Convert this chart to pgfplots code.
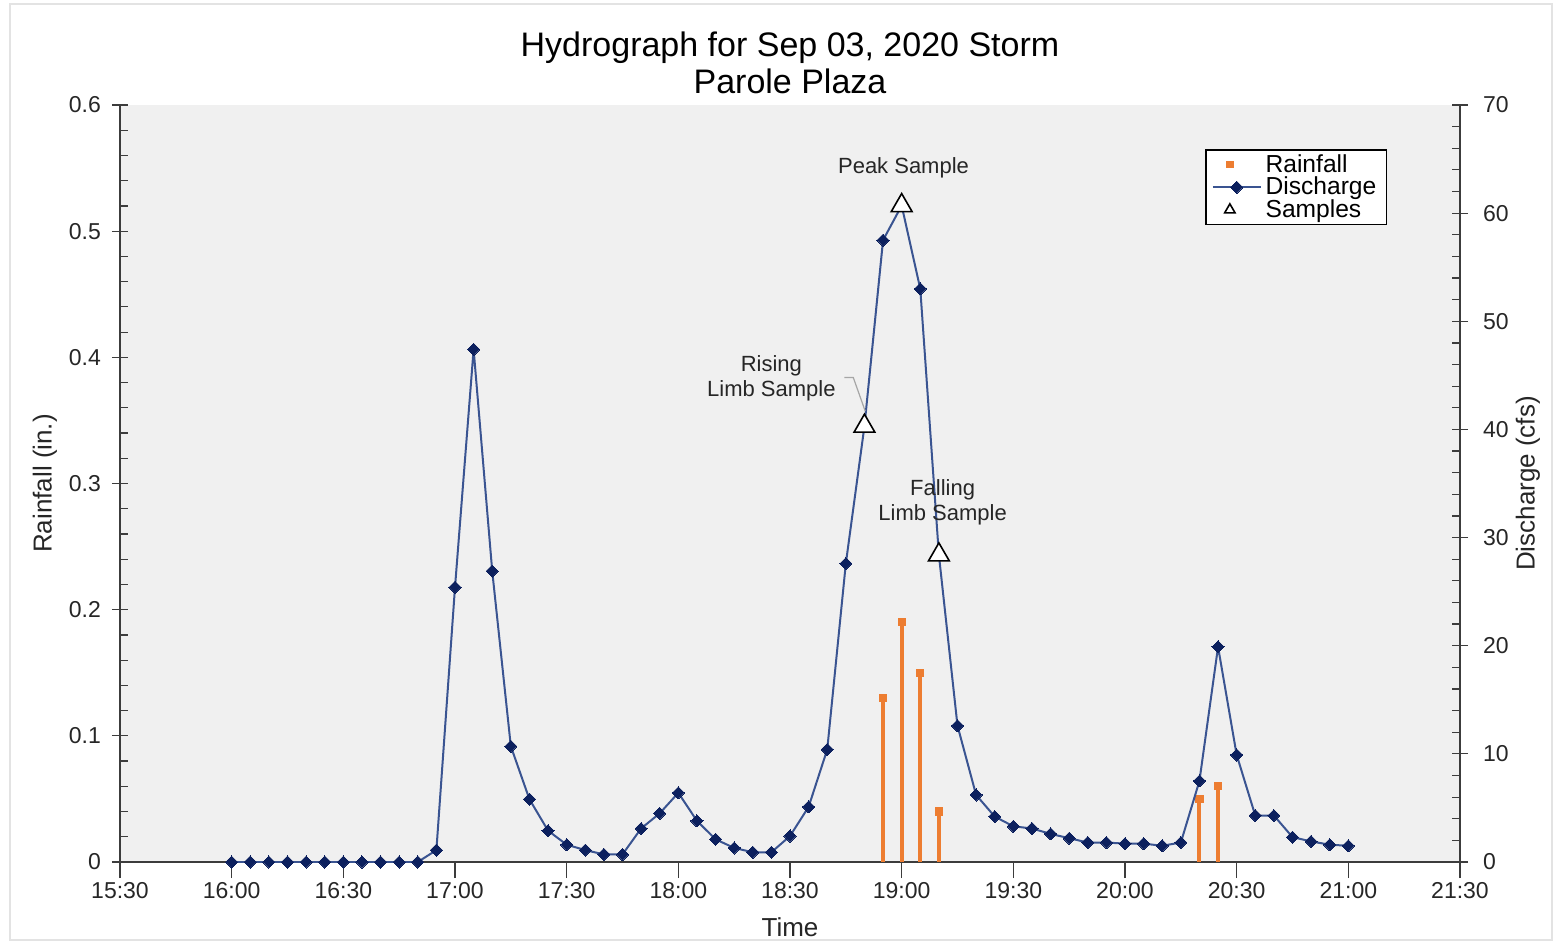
\documentclass[border=0pt]{standalone}
\usepackage{pgfplots}
\pgfplotsset{compat=1.18}
\usepackage{pgfplotstable}
\usepackage{fontspec}
\setmainfont{Liberation Sans}

\definecolor{rainorange}{RGB}{237,125,49}
\definecolor{qline}{RGB}{58,84,145}
\definecolor{qmark}{RGB}{12,32,94}
\definecolor{plotbg}{RGB}{240,240,240}
\definecolor{axisgray}{RGB}{60,60,60}

% time in minutes after midnight, discharge in cfs
\pgfplotstableread{
t q
960 0
965 0
970 0
975 0
980 0
985 0
990 0
995 0
1000 0
1005 0
1010 0
1015 1.1
1020 25.4
1025 47.4
1030 26.9
1035 10.7
1040 5.8
1045 2.9
1050 1.6
1055 1.1
1060 0.7
1065 0.7
1070 3.1
1075 4.5
1080 6.4
1085 3.8
1090 2.1
1095 1.3
1100 0.9
1105 0.9
1110 2.4
1115 5.1
1120 10.4
1125 27.6
1130 40.3
1135 57.5
1140 60.7
1145 53.0
1150 28.4
1155 12.6
1160 6.2
1165 4.2
1170 3.3
1175 3.1
1180 2.6
1185 2.2
1190 1.8
1195 1.8
1200 1.7
1205 1.7
1210 1.5
1215 1.8
1220 7.5
1225 19.9
1230 9.9
1235 4.3
1240 4.3
1245 2.3
1250 1.9
1255 1.6
1260 1.5
}\dischargetable

% rainfall depth in inches
\pgfplotstableread{
t r
1135 0.13
1140 0.19
1145 0.15
1150 0.04
1220 0.05
1225 0.06
}\rainfalltable

% sampled points on the hydrograph
\pgfplotstableread{
t q
1130 40.3
1140 60.7
1150 28.4
}\sampletable

\pgfplotsset{
  hydro/.style={
    width=670pt, height=378.5pt, scale only axis,
    at={(0,0)}, anchor=south west,
    xmin=930, xmax=1290,
    tick align=center,
    major tick length=8pt, minor tick length=4pt,
    every tick/.style={axisgray, line width=0.6pt},
    axis line style={axisgray, line width=0.8pt},
    tick label style={font=\fontsize{11.5}{13}\selectfont, text=black!85},
    label style={font=\fontsize{13}{15}\selectfont, text=black!85},
    scaled ticks=false,
    /pgf/number format/assume math mode=true,
  },
  qlegend/.style={
    legend image code/.code={\draw[mark repeat=2, mark phase=2, ##1]
      plot coordinates {(0cm,0cm) (0.42cm,0cm) (0.84cm,0cm)};}
  },
}

\begin{document}
\begin{tikzpicture}
\useasboundingbox (-60pt,-41pt) rectangle (719.5pt,431pt);
\draw[gray!22, line width=1pt] (-55pt,-39pt) rectangle (716pt,429pt);

% rainfall (left axis) and time axis
\begin{axis}[hydro,
  axis x line*=bottom, axis y line*=left,
  axis background/.style={fill=plotbg},
  xtick={930,960,990,1020,1050,1080,1110,1140,1170,1200,1230,1260,1290},
  xticklabels={15:30,16:00,16:30,17:00,17:30,18:00,18:30,19:00,19:30,20:00,20:30,21:00,21:30},
  xtick style={yshift=-4pt},
  every minor tick/.append style={xshift=2pt},
  xticklabel style={yshift=-2.5pt},
  yticklabel style={xshift=-2pt},
  ymin=0, ymax=0.6,
  ytick={0,0.1,0.2,0.3,0.4,0.5,0.6},
  minor y tick num=4,
  xlabel={Time},
  ylabel={Rainfall (in.)},
  xlabel style={at={(axis description cs:0.5,0)}, anchor=center, yshift=-32.5pt},
  ylabel style={at={(axis description cs:0,0.5)}, anchor=center, yshift=37.5pt},
]
\addplot[ycomb, draw=rainorange, line width=2pt, mark=square*, mark size=1.8pt,
  mark options={fill=rainorange, draw=rainorange, line width=0pt}]
  table[x=t, y=r] {\rainfalltable};
\end{axis}

% discharge (right axis)
\begin{axis}[hydro,
  axis x line=none, axis y line*=right,
  ymin=0, ymax=70,
  ytick={0,10,20,30,40,50,60,70},
  minor y tick num=4,
  every minor tick/.append style={xshift=-2pt},
  yticklabel style={xshift=4pt},
  ylabel={Discharge (cfs)},
  ylabel style={at={(axis description cs:1,0.5)}, anchor=center, yshift=-34pt},
  legend cell align=left,
  legend style={at={(rel axis cs:0.8097,0.9419)}, anchor=north west,
    draw=black, line width=0.8pt, fill=white,
    font=\fontsize{12.3}{12.3}\selectfont, inner xsep=3pt, inner ysep=1pt, row sep=-1.5pt,
    nodes={inner ysep=1.2pt}},
]
\addlegendimage{only marks, mark=square*, mark size=1.5pt,
  mark options={fill=rainorange, draw=rainorange}}
\addlegendentry{Rainfall}

\addplot[qline, line width=1pt, mark=square*, mark size=2.15pt,
  mark options={rotate=45, fill=qmark, draw=qmark, line width=0pt}, qlegend]
  table[x=t, y=q] {\dischargetable};
\addlegendentry{Discharge}

\addplot[only marks, mark=triangle*, mark size=6pt,
  mark options={fill=white, draw=black, line width=0.8pt},
  legend image post style={mark size=3pt, line width=0.6pt}]
  table[x=t, y=q] {\sampletable};
\addlegendentry{Samples}

\draw[gray!70, line width=0.6pt] (axis cs:1124.6,44.8) -- (axis cs:1127,44.8) -- (axis cs:1130.2,41.7);
\node[font=\fontsize{11}{12.5}\selectfont, text=black!85] at (axis cs:1140.5,64.2) {Peak Sample};
\node[font=\fontsize{11}{12.5}\selectfont, text=black!85, align=center] at (axis cs:1105.0,44.7) {Rising\\Limb Sample};
\node[font=\fontsize{11}{12.5}\selectfont, text=black!85, align=center] at (axis cs:1151.0,33.3) {Falling\\Limb Sample};
\end{axis}

\node[align=center, font=\fontsize{17}{18.5}\selectfont, anchor=south, inner sep=0pt]
  at (335pt,384pt) {Hydrograph for Sep 03, 2020 Storm\\Parole Plaza};
\end{tikzpicture}
\end{document}
